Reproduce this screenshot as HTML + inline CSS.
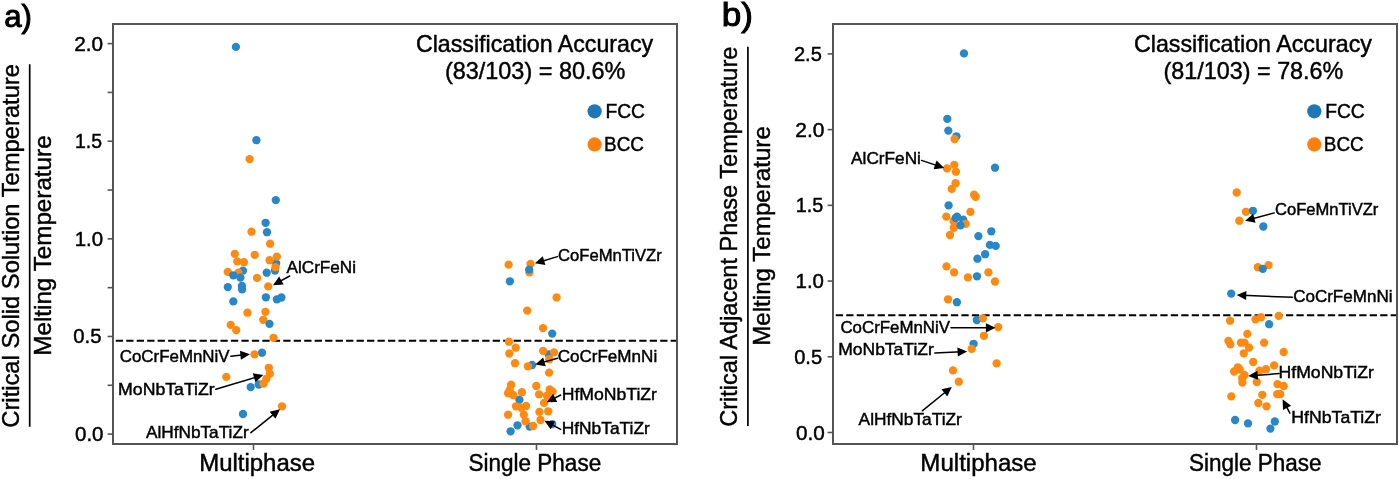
<!DOCTYPE html>
<html><head><meta charset="utf-8"><title>Classification Accuracy</title>
<style>html,body{margin:0;padding:0;background:#fff;}body{width:1399px;height:479px;overflow:hidden;}svg{display:block;will-change:transform;}
text{font-family:"Liberation Sans",sans-serif;stroke:#000;stroke-width:0.45px;}</style></head>
<body>
<svg width="1399" height="479" viewBox="0 0 1399 479" font-family="Liberation Sans, sans-serif">
<rect x="0" y="0" width="1399" height="479" fill="#fff"/>
<line x1="107.6" y1="434.1" x2="113" y2="434.1" stroke="#555555" stroke-width="1.6"/>
<line x1="107.6" y1="385.29" x2="113" y2="385.29" stroke="#555555" stroke-width="1.6"/>
<line x1="107.6" y1="336.48" x2="113" y2="336.48" stroke="#555555" stroke-width="1.6"/>
<line x1="107.6" y1="287.66" x2="113" y2="287.66" stroke="#555555" stroke-width="1.6"/>
<line x1="107.6" y1="238.85" x2="113" y2="238.85" stroke="#555555" stroke-width="1.6"/>
<line x1="107.6" y1="190.04" x2="113" y2="190.04" stroke="#555555" stroke-width="1.6"/>
<line x1="107.6" y1="141.23" x2="113" y2="141.23" stroke="#555555" stroke-width="1.6"/>
<line x1="107.6" y1="92.41" x2="113" y2="92.41" stroke="#555555" stroke-width="1.6"/>
<line x1="107.6" y1="43.6" x2="113" y2="43.6" stroke="#555555" stroke-width="1.6"/>
<text x="74.98" y="441.1" font-size="20.3" textLength="28.54" lengthAdjust="spacingAndGlyphs" fill="#000">0.0</text>
<text x="73.29" y="343.48" font-size="20.3" textLength="28.22" lengthAdjust="spacingAndGlyphs" fill="#000">0.5</text>
<text x="74.66" y="245.85" font-size="20.3" textLength="28.46" lengthAdjust="spacingAndGlyphs" fill="#000">1.0</text>
<text x="75.04" y="148.23" font-size="20.3" textLength="27.03" lengthAdjust="spacingAndGlyphs" fill="#000">1.5</text>
<text x="74.26" y="50.6" font-size="20.3" textLength="28.87" lengthAdjust="spacingAndGlyphs" fill="#000">2.0</text>
<line x1="115.75" y1="340.7" x2="677" y2="340.7" stroke="#000" stroke-width="2" stroke-dasharray="7.3 3.17"/>
<line x1="827.6" y1="432.5" x2="833" y2="432.5" stroke="#555555" stroke-width="1.6"/>
<line x1="827.6" y1="356.78" x2="833" y2="356.78" stroke="#555555" stroke-width="1.6"/>
<line x1="827.6" y1="281.06" x2="833" y2="281.06" stroke="#555555" stroke-width="1.6"/>
<line x1="827.6" y1="205.34" x2="833" y2="205.34" stroke="#555555" stroke-width="1.6"/>
<line x1="827.6" y1="129.62" x2="833" y2="129.62" stroke="#555555" stroke-width="1.6"/>
<line x1="827.6" y1="53.9" x2="833" y2="53.9" stroke="#555555" stroke-width="1.6"/>
<text x="796.07" y="439.5" font-size="20.3" textLength="28.86" lengthAdjust="spacingAndGlyphs" fill="#000">0.0</text>
<text x="794.2" y="363.78" font-size="20.3" textLength="27.91" lengthAdjust="spacingAndGlyphs" fill="#000">0.5</text>
<text x="795.56" y="288.06" font-size="20.3" textLength="28.46" lengthAdjust="spacingAndGlyphs" fill="#000">1.0</text>
<text x="795.81" y="212.34" font-size="20.3" textLength="27.58" lengthAdjust="spacingAndGlyphs" fill="#000">1.5</text>
<text x="795.25" y="136.62" font-size="20.3" textLength="29.19" lengthAdjust="spacingAndGlyphs" fill="#000">2.0</text>
<text x="793.9" y="60.9" font-size="20.3" textLength="27.91" lengthAdjust="spacingAndGlyphs" fill="#000">2.5</text>
<line x1="835.75" y1="315.2" x2="1397" y2="315.2" stroke="#000" stroke-width="2" stroke-dasharray="7.3 3.17"/>
<line x1="253.5" y1="444" x2="253.5" y2="450" stroke="#555555" stroke-width="1.6"/>
<line x1="536.5" y1="444" x2="536.5" y2="450" stroke="#555555" stroke-width="1.6"/>
<line x1="973.5" y1="444" x2="973.5" y2="450" stroke="#555555" stroke-width="1.6"/>
<line x1="1256.5" y1="444" x2="1256.5" y2="450" stroke="#555555" stroke-width="1.6"/>
<circle cx="235.9" cy="46.9" r="4.15" fill="#2787c8"/>
<circle cx="256.4" cy="140.2" r="4.15" fill="#2787c8"/>
<circle cx="275.8" cy="200.1" r="4.15" fill="#2787c8"/>
<circle cx="265.6" cy="222.8" r="4.15" fill="#2787c8"/>
<circle cx="267" cy="232.2" r="4.15" fill="#2787c8"/>
<circle cx="276.1" cy="263.3" r="4.15" fill="#2787c8"/>
<circle cx="275" cy="270.6" r="4.15" fill="#2787c8"/>
<circle cx="243" cy="270.6" r="4.15" fill="#2787c8"/>
<circle cx="266.7" cy="272.7" r="4.15" fill="#2787c8"/>
<circle cx="227.8" cy="287.1" r="4.15" fill="#2787c8"/>
<circle cx="241.9" cy="286" r="4.15" fill="#2787c8"/>
<circle cx="242.1" cy="289.4" r="4.15" fill="#2787c8"/>
<circle cx="265.9" cy="297.3" r="4.15" fill="#2787c8"/>
<circle cx="276.9" cy="299.3" r="4.15" fill="#2787c8"/>
<circle cx="281.4" cy="297.5" r="4.15" fill="#2787c8"/>
<circle cx="233.3" cy="301.4" r="4.15" fill="#2787c8"/>
<circle cx="262" cy="352.7" r="4.15" fill="#2787c8"/>
<circle cx="258.8" cy="384.5" r="4.15" fill="#2787c8"/>
<circle cx="250.7" cy="387.1" r="4.15" fill="#2787c8"/>
<circle cx="243" cy="414" r="4.15" fill="#2787c8"/>
<circle cx="249.6" cy="159.1" r="4.15" fill="#ff8a10"/>
<circle cx="251.5" cy="231.7" r="4.15" fill="#ff8a10"/>
<circle cx="270.1" cy="243.7" r="4.15" fill="#ff8a10"/>
<circle cx="234.8" cy="253.9" r="4.15" fill="#ff8a10"/>
<circle cx="254.7" cy="254.9" r="4.15" fill="#ff8a10"/>
<circle cx="276.8" cy="256.6" r="4.15" fill="#ff8a10"/>
<circle cx="269.6" cy="260.2" r="4.15" fill="#ff8a10"/>
<circle cx="237.3" cy="261.4" r="4.15" fill="#ff8a10"/>
<circle cx="243.9" cy="262.2" r="4.15" fill="#ff8a10"/>
<circle cx="275.4" cy="267.2" r="4.15" fill="#ff8a10"/>
<circle cx="227.8" cy="271.9" r="4.15" fill="#ff8a10"/>
<circle cx="238.5" cy="272.7" r="4.15" fill="#ff8a10"/>
<circle cx="257" cy="277.9" r="4.15" fill="#ff8a10"/>
<circle cx="268.2" cy="286.4" r="4.15" fill="#ff8a10"/>
<circle cx="247.4" cy="312.7" r="4.15" fill="#ff8a10"/>
<circle cx="265.4" cy="311.8" r="4.15" fill="#ff8a10"/>
<circle cx="263.2" cy="319.8" r="4.15" fill="#ff8a10"/>
<circle cx="230.7" cy="324.9" r="4.15" fill="#ff8a10"/>
<circle cx="236.2" cy="330.1" r="4.15" fill="#ff8a10"/>
<circle cx="273.5" cy="337.8" r="4.15" fill="#ff8a10"/>
<circle cx="254.5" cy="354.4" r="4.15" fill="#ff8a10"/>
<circle cx="268.8" cy="367.8" r="4.15" fill="#ff8a10"/>
<circle cx="269.8" cy="373.6" r="4.15" fill="#ff8a10"/>
<circle cx="266.4" cy="378.8" r="4.15" fill="#ff8a10"/>
<circle cx="263.5" cy="383.5" r="4.15" fill="#ff8a10"/>
<circle cx="226.3" cy="376.9" r="4.15" fill="#ff8a10"/>
<circle cx="282" cy="406.3" r="4.15" fill="#ff8a10"/>
<circle cx="233.3" cy="275.3" r="4.15" fill="#2787c8"/>
<circle cx="240.4" cy="277.6" r="4.15" fill="#2787c8"/>
<circle cx="269.5" cy="323.9" r="4.15" fill="#2787c8"/>
<circle cx="509.9" cy="281.3" r="4.15" fill="#2787c8"/>
<circle cx="552.2" cy="333.6" r="4.15" fill="#2787c8"/>
<circle cx="548.8" cy="354.5" r="4.15" fill="#2787c8"/>
<circle cx="532.1" cy="365" r="4.15" fill="#2787c8"/>
<circle cx="519.4" cy="399.7" r="4.15" fill="#2787c8"/>
<circle cx="517.5" cy="425.3" r="4.15" fill="#2787c8"/>
<circle cx="510.6" cy="431.3" r="4.15" fill="#2787c8"/>
<circle cx="529.7" cy="426.6" r="4.15" fill="#2787c8"/>
<circle cx="552.2" cy="424.1" r="4.15" fill="#2787c8"/>
<circle cx="508.6" cy="264.6" r="4.15" fill="#ff8a10"/>
<circle cx="530.5" cy="263.9" r="4.15" fill="#ff8a10"/>
<circle cx="529.4" cy="272.4" r="4.15" fill="#ff8a10"/>
<circle cx="556.6" cy="297.4" r="4.15" fill="#ff8a10"/>
<circle cx="527.2" cy="310.6" r="4.15" fill="#ff8a10"/>
<circle cx="543" cy="328.1" r="4.15" fill="#ff8a10"/>
<circle cx="508.9" cy="341.7" r="4.15" fill="#ff8a10"/>
<circle cx="515.7" cy="347.7" r="4.15" fill="#ff8a10"/>
<circle cx="509.3" cy="353.5" r="4.15" fill="#ff8a10"/>
<circle cx="515" cy="363.2" r="4.15" fill="#ff8a10"/>
<circle cx="543.2" cy="350.9" r="4.15" fill="#ff8a10"/>
<circle cx="554" cy="352.4" r="4.15" fill="#ff8a10"/>
<circle cx="549.3" cy="359.2" r="4.15" fill="#ff8a10"/>
<circle cx="527.9" cy="366.3" r="4.15" fill="#ff8a10"/>
<circle cx="549.1" cy="372.6" r="4.15" fill="#ff8a10"/>
<circle cx="511.1" cy="384.7" r="4.15" fill="#ff8a10"/>
<circle cx="509.7" cy="390" r="4.15" fill="#ff8a10"/>
<circle cx="508.1" cy="393.2" r="4.15" fill="#ff8a10"/>
<circle cx="513.1" cy="395" r="4.15" fill="#ff8a10"/>
<circle cx="521.9" cy="392.2" r="4.15" fill="#ff8a10"/>
<circle cx="536.3" cy="386" r="4.15" fill="#ff8a10"/>
<circle cx="539.1" cy="394.4" r="4.15" fill="#ff8a10"/>
<circle cx="549.7" cy="389.4" r="4.15" fill="#ff8a10"/>
<circle cx="552.5" cy="391.6" r="4.15" fill="#ff8a10"/>
<circle cx="546.9" cy="395.7" r="4.15" fill="#ff8a10"/>
<circle cx="544.1" cy="402.9" r="4.15" fill="#ff8a10"/>
<circle cx="516" cy="406.3" r="4.15" fill="#ff8a10"/>
<circle cx="521.3" cy="407.8" r="4.15" fill="#ff8a10"/>
<circle cx="526" cy="406" r="4.15" fill="#ff8a10"/>
<circle cx="523.8" cy="414.6" r="4.15" fill="#ff8a10"/>
<circle cx="525.5" cy="421.2" r="4.15" fill="#ff8a10"/>
<circle cx="508.1" cy="414.7" r="4.15" fill="#ff8a10"/>
<circle cx="533.1" cy="426" r="4.15" fill="#ff8a10"/>
<circle cx="539.4" cy="411.9" r="4.15" fill="#ff8a10"/>
<circle cx="548.2" cy="411.3" r="4.15" fill="#ff8a10"/>
<circle cx="540.5" cy="420" r="4.15" fill="#ff8a10"/>
<circle cx="529.2" cy="269.6" r="4.15" fill="#2787c8"/>
<circle cx="964" cy="53.4" r="4.15" fill="#2787c8"/>
<circle cx="947.3" cy="118.9" r="4.15" fill="#2787c8"/>
<circle cx="948.3" cy="130.6" r="4.15" fill="#2787c8"/>
<circle cx="956.4" cy="136.3" r="4.15" fill="#2787c8"/>
<circle cx="995" cy="167.7" r="4.15" fill="#2787c8"/>
<circle cx="948.6" cy="205.4" r="4.15" fill="#2787c8"/>
<circle cx="963.2" cy="219.7" r="4.15" fill="#2787c8"/>
<circle cx="991.3" cy="231.3" r="4.15" fill="#2787c8"/>
<circle cx="978.4" cy="236.1" r="4.15" fill="#2787c8"/>
<circle cx="989.9" cy="244.9" r="4.15" fill="#2787c8"/>
<circle cx="995.7" cy="245.9" r="4.15" fill="#2787c8"/>
<circle cx="985.1" cy="254.2" r="4.15" fill="#2787c8"/>
<circle cx="977.4" cy="258.7" r="4.15" fill="#2787c8"/>
<circle cx="977" cy="276.3" r="4.15" fill="#2787c8"/>
<circle cx="956.9" cy="302.2" r="4.15" fill="#2787c8"/>
<circle cx="976.8" cy="320" r="4.15" fill="#2787c8"/>
<circle cx="973.6" cy="343.8" r="4.15" fill="#2787c8"/>
<circle cx="954.6" cy="139" r="4.15" fill="#ff8a10"/>
<circle cx="947" cy="168.4" r="4.15" fill="#ff8a10"/>
<circle cx="954.3" cy="164.9" r="4.15" fill="#ff8a10"/>
<circle cx="955.9" cy="171.7" r="4.15" fill="#ff8a10"/>
<circle cx="955.6" cy="183.2" r="4.15" fill="#ff8a10"/>
<circle cx="951.7" cy="188.9" r="4.15" fill="#ff8a10"/>
<circle cx="974.1" cy="194.7" r="4.15" fill="#ff8a10"/>
<circle cx="975.7" cy="196.8" r="4.15" fill="#ff8a10"/>
<circle cx="970.4" cy="211.9" r="4.15" fill="#ff8a10"/>
<circle cx="946.3" cy="216.6" r="4.15" fill="#ff8a10"/>
<circle cx="953.6" cy="221.2" r="4.15" fill="#ff8a10"/>
<circle cx="965.7" cy="223.8" r="4.15" fill="#ff8a10"/>
<circle cx="953.8" cy="227.8" r="4.15" fill="#ff8a10"/>
<circle cx="950" cy="235" r="4.15" fill="#ff8a10"/>
<circle cx="946.5" cy="266.4" r="4.15" fill="#ff8a10"/>
<circle cx="954.1" cy="272.3" r="4.15" fill="#ff8a10"/>
<circle cx="967.9" cy="277.4" r="4.15" fill="#ff8a10"/>
<circle cx="988.4" cy="272.3" r="4.15" fill="#ff8a10"/>
<circle cx="995" cy="281.5" r="4.15" fill="#ff8a10"/>
<circle cx="948" cy="299.3" r="4.15" fill="#ff8a10"/>
<circle cx="982.8" cy="318.4" r="4.15" fill="#ff8a10"/>
<circle cx="998.2" cy="327.1" r="4.15" fill="#ff8a10"/>
<circle cx="983.9" cy="335.8" r="4.15" fill="#ff8a10"/>
<circle cx="971.7" cy="348.8" r="4.15" fill="#ff8a10"/>
<circle cx="996.6" cy="363.4" r="4.15" fill="#ff8a10"/>
<circle cx="953" cy="370.4" r="4.15" fill="#ff8a10"/>
<circle cx="958.8" cy="381.7" r="4.15" fill="#ff8a10"/>
<circle cx="955.7" cy="218" r="4.15" fill="#2787c8"/>
<circle cx="957" cy="216.6" r="4.15" fill="#2787c8"/>
<circle cx="960.5" cy="225.3" r="4.15" fill="#2787c8"/>
<circle cx="1263.3" cy="226.5" r="4.15" fill="#2787c8"/>
<circle cx="1231.2" cy="293.6" r="4.15" fill="#2787c8"/>
<circle cx="1269.1" cy="324.2" r="4.15" fill="#2787c8"/>
<circle cx="1235.1" cy="420" r="4.15" fill="#2787c8"/>
<circle cx="1248" cy="423.4" r="4.15" fill="#2787c8"/>
<circle cx="1274.8" cy="421.5" r="4.15" fill="#2787c8"/>
<circle cx="1270.4" cy="428.6" r="4.15" fill="#2787c8"/>
<circle cx="1236.7" cy="192.5" r="4.15" fill="#ff8a10"/>
<circle cx="1245.9" cy="211.8" r="4.15" fill="#ff8a10"/>
<circle cx="1239.3" cy="220.7" r="4.15" fill="#ff8a10"/>
<circle cx="1257.8" cy="267.2" r="4.15" fill="#ff8a10"/>
<circle cx="1268.5" cy="265.1" r="4.15" fill="#ff8a10"/>
<circle cx="1230.1" cy="320.7" r="4.15" fill="#ff8a10"/>
<circle cx="1255.5" cy="319.3" r="4.15" fill="#ff8a10"/>
<circle cx="1261" cy="317.2" r="4.15" fill="#ff8a10"/>
<circle cx="1278.7" cy="315.9" r="4.15" fill="#ff8a10"/>
<circle cx="1247.3" cy="333.9" r="4.15" fill="#ff8a10"/>
<circle cx="1228.4" cy="340.9" r="4.15" fill="#ff8a10"/>
<circle cx="1230.3" cy="344.3" r="4.15" fill="#ff8a10"/>
<circle cx="1240.9" cy="342.7" r="4.15" fill="#ff8a10"/>
<circle cx="1244.5" cy="342.6" r="4.15" fill="#ff8a10"/>
<circle cx="1249.1" cy="347.6" r="4.15" fill="#ff8a10"/>
<circle cx="1264.1" cy="342.7" r="4.15" fill="#ff8a10"/>
<circle cx="1243.8" cy="353.3" r="4.15" fill="#ff8a10"/>
<circle cx="1283.7" cy="352" r="4.15" fill="#ff8a10"/>
<circle cx="1253.2" cy="362" r="4.15" fill="#ff8a10"/>
<circle cx="1274.1" cy="365.4" r="4.15" fill="#ff8a10"/>
<circle cx="1237.8" cy="367.3" r="4.15" fill="#ff8a10"/>
<circle cx="1239.7" cy="369.4" r="4.15" fill="#ff8a10"/>
<circle cx="1234.1" cy="371.5" r="4.15" fill="#ff8a10"/>
<circle cx="1244.4" cy="375" r="4.15" fill="#ff8a10"/>
<circle cx="1242.2" cy="378.2" r="4.15" fill="#ff8a10"/>
<circle cx="1242.4" cy="382.5" r="4.15" fill="#ff8a10"/>
<circle cx="1259.5" cy="370.6" r="4.15" fill="#ff8a10"/>
<circle cx="1265.9" cy="369.2" r="4.15" fill="#ff8a10"/>
<circle cx="1256.8" cy="382" r="4.15" fill="#ff8a10"/>
<circle cx="1277.5" cy="384.1" r="4.15" fill="#ff8a10"/>
<circle cx="1283.7" cy="386" r="4.15" fill="#ff8a10"/>
<circle cx="1231.3" cy="396.4" r="4.15" fill="#ff8a10"/>
<circle cx="1262.3" cy="394.8" r="4.15" fill="#ff8a10"/>
<circle cx="1277.2" cy="394.1" r="4.15" fill="#ff8a10"/>
<circle cx="1280.3" cy="394.1" r="4.15" fill="#ff8a10"/>
<circle cx="1258.3" cy="403" r="4.15" fill="#ff8a10"/>
<circle cx="1266.5" cy="406.3" r="4.15" fill="#ff8a10"/>
<circle cx="1252.9" cy="210.8" r="4.15" fill="#2787c8"/>
<circle cx="1262.8" cy="268.8" r="4.15" fill="#2787c8"/>
<rect x="113" y="24" width="564" height="420" fill="none" stroke="#555555" stroke-width="2"/>
<rect x="833" y="24" width="564" height="420" fill="none" stroke="#555555" stroke-width="2"/>
<text x="286.6" y="272.7" font-size="17" textLength="69.42" lengthAdjust="spacingAndGlyphs" fill="#000">AlCrFeNi</text>
<text x="119.76" y="362.1" font-size="17" textLength="109.83" lengthAdjust="spacingAndGlyphs" fill="#000">CoCrFeMnNiV</text>
<text x="118.08" y="394.7" font-size="17" textLength="96.65" lengthAdjust="spacingAndGlyphs" fill="#000">MoNbTaTiZr</text>
<text x="146" y="437.8" font-size="17" textLength="102.63" lengthAdjust="spacingAndGlyphs" fill="#000">AlHfNbTaTiZr</text>
<text x="557.97" y="260.5" font-size="17" textLength="103.81" lengthAdjust="spacingAndGlyphs" fill="#000">CoFeMnTiVZr</text>
<text x="557.65" y="362.2" font-size="17" textLength="99.54" lengthAdjust="spacingAndGlyphs" fill="#000">CoCrFeMnNi</text>
<text x="561.69" y="399.7" font-size="17" textLength="95.31" lengthAdjust="spacingAndGlyphs" fill="#000">HfMoNbTiZr</text>
<text x="561.71" y="434.3" font-size="17" textLength="88.13" lengthAdjust="spacingAndGlyphs" fill="#000">HfNbTaTiZr</text>
<line x1="289.7" y1="276" x2="278.05" y2="282.42" stroke="#000" stroke-width="1.5" stroke-linecap="round"/>
<polygon points="273,285.2 279.19,276.54 283.63,284.6" fill="#000"/>
<line x1="230.8" y1="356.2" x2="244.27" y2="354.87" stroke="#000" stroke-width="1.5" stroke-linecap="round"/>
<polygon points="250,354.3 240.9,359.82 239.99,350.67" fill="#000"/>
<line x1="215.8" y1="389.3" x2="257.78" y2="376.66" stroke="#000" stroke-width="1.5" stroke-linecap="round"/>
<polygon points="263.3,375 255.43,382.17 252.78,373.36" fill="#000"/>
<line x1="250.9" y1="432.7" x2="275.52" y2="412.82" stroke="#000" stroke-width="1.5" stroke-linecap="round"/>
<polygon points="280,409.2 275.42,418.81 269.64,411.65" fill="#000"/>
<line x1="557.4" y1="256.6" x2="540.42" y2="261.66" stroke="#000" stroke-width="1.5" stroke-linecap="round"/>
<polygon points="534.9,263.3 542.79,256.15 545.41,264.97" fill="#000"/>
<line x1="557.6" y1="358.2" x2="540.75" y2="362.86" stroke="#000" stroke-width="1.5" stroke-linecap="round"/>
<polygon points="535.2,364.4 543.23,357.41 545.68,366.27" fill="#000"/>
<line x1="560.7" y1="395" x2="551.73" y2="399.58" stroke="#000" stroke-width="1.5" stroke-linecap="round"/>
<polygon points="546.6,402.2 553.06,393.74 557.24,401.93" fill="#000"/>
<line x1="560.7" y1="429.4" x2="549.48" y2="423.41" stroke="#000" stroke-width="1.5" stroke-linecap="round"/>
<polygon points="544.4,420.7 555.04,421.16 550.7,429.28" fill="#000"/>
<text x="851.1" y="163.6" font-size="17" textLength="69.83" lengthAdjust="spacingAndGlyphs" fill="#000">AlCrFeNi</text>
<text x="840.46" y="332.6" font-size="17" textLength="109.52" lengthAdjust="spacingAndGlyphs" fill="#000">CoCrFeMnNiV</text>
<text x="838.2" y="355.4" font-size="17" textLength="95.63" lengthAdjust="spacingAndGlyphs" fill="#000">MoNbTaTiZr</text>
<text x="858.6" y="425.3" font-size="17" textLength="103.23" lengthAdjust="spacingAndGlyphs" fill="#000">AlHfNbTaTiZr</text>
<text x="1274.97" y="215.4" font-size="17" textLength="103.41" lengthAdjust="spacingAndGlyphs" fill="#000">CoFeMnTiVZr</text>
<text x="1293.15" y="301.7" font-size="17" textLength="99.34" lengthAdjust="spacingAndGlyphs" fill="#000">CoCrFeMnNi</text>
<text x="1278.49" y="377.7" font-size="17" textLength="95.41" lengthAdjust="spacingAndGlyphs" fill="#000">HfMoNbTiZr</text>
<text x="1291.39" y="423.3" font-size="17" textLength="89.56" lengthAdjust="spacingAndGlyphs" fill="#000">HfNbTaTiZr</text>
<line x1="921.5" y1="160.4" x2="938.73" y2="166.09" stroke="#000" stroke-width="1.5" stroke-linecap="round"/>
<polygon points="944.2,167.9 933.64,169.26 936.53,160.52" fill="#000"/>
<line x1="951" y1="327.8" x2="989.74" y2="327.8" stroke="#000" stroke-width="1.5" stroke-linecap="round"/>
<polygon points="995.5,327.8 985.9,332.4 985.9,323.2" fill="#000"/>
<line x1="934.9" y1="353.1" x2="961.45" y2="351.78" stroke="#000" stroke-width="1.5" stroke-linecap="round"/>
<polygon points="967.2,351.5 957.84,356.57 957.38,347.38" fill="#000"/>
<line x1="922.3" y1="410.8" x2="947.32" y2="390.53" stroke="#000" stroke-width="1.5" stroke-linecap="round"/>
<polygon points="951.8,386.9 947.24,396.52 941.45,389.37" fill="#000"/>
<line x1="1274.3" y1="212.9" x2="1250.66" y2="219.21" stroke="#000" stroke-width="1.5" stroke-linecap="round"/>
<polygon points="1245.1,220.7 1253.19,213.78 1255.56,222.67" fill="#000"/>
<line x1="1292.5" y1="297.3" x2="1242.46" y2="295.33" stroke="#000" stroke-width="1.5" stroke-linecap="round"/>
<polygon points="1236.7,295.1 1246.47,290.88 1246.11,300.07" fill="#000"/>
<line x1="1279" y1="373.6" x2="1253.94" y2="375.55" stroke="#000" stroke-width="1.5" stroke-linecap="round"/>
<polygon points="1248.2,376 1257.41,370.67 1258.13,379.84" fill="#000"/>
<line x1="1289.9" y1="413.2" x2="1285.28" y2="404.4" stroke="#000" stroke-width="1.5" stroke-linecap="round"/>
<polygon points="1282.6,399.3 1291.14,405.66 1282.99,409.94" fill="#000"/>
<text x="415.94" y="52.2" font-size="24" textLength="237.26" lengthAdjust="spacingAndGlyphs" fill="#000">Classification Accuracy</text>
<text x="444.89" y="79" font-size="24" textLength="180.53" lengthAdjust="spacingAndGlyphs" fill="#000">(83/103) = 80.6%</text>
<text x="1133.94" y="52.2" font-size="24" textLength="237.97" lengthAdjust="spacingAndGlyphs" fill="#000">Classification Accuracy</text>
<text x="1163.6" y="79" font-size="24" textLength="179.72" lengthAdjust="spacingAndGlyphs" fill="#000">(81/103) = 78.6%</text>
<circle cx="594.6" cy="111.3" r="7.1" fill="#1f77b4"/>
<circle cx="594.6" cy="144.4" r="7.1" fill="#ff7f0e"/>
<text x="605.46" y="118.4" font-size="20.3" textLength="39.51" lengthAdjust="spacingAndGlyphs" fill="#000">FCC</text>
<text x="604.09" y="151.4" font-size="20.3" textLength="39.89" lengthAdjust="spacingAndGlyphs" fill="#000">BCC</text>
<circle cx="1314.3" cy="111.3" r="7.1" fill="#1f77b4"/>
<circle cx="1314.3" cy="144.4" r="7.1" fill="#ff7f0e"/>
<text x="1325.16" y="118.4" font-size="20.3" textLength="39.51" lengthAdjust="spacingAndGlyphs" fill="#000">FCC</text>
<text x="1323.79" y="151.4" font-size="20.3" textLength="39.89" lengthAdjust="spacingAndGlyphs" fill="#000">BCC</text>
<text x="199.29" y="471.2" font-size="23.3" textLength="115.71" lengthAdjust="spacingAndGlyphs" fill="#000">Multiphase</text>
<text x="468.57" y="470.7" font-size="23.3" textLength="132.59" lengthAdjust="spacingAndGlyphs" fill="#000">Single Phase</text>
<text x="920.38" y="470.7" font-size="23.3" textLength="116.32" lengthAdjust="spacingAndGlyphs" fill="#000">Multiphase</text>
<text x="1188.88" y="470.7" font-size="23.3" textLength="132.59" lengthAdjust="spacingAndGlyphs" fill="#000">Single Phase</text>
<text transform="translate(18.6,426.5) rotate(-90)" x="-1.19" y="0" font-size="24.5" textLength="363.67" lengthAdjust="spacingAndGlyphs" fill="#000">Critical Solid Solution Temperature</text>
<text transform="translate(51.3,353.8) rotate(-90)" x="-1.94" y="0" font-size="24.5" textLength="220.36" lengthAdjust="spacingAndGlyphs" fill="#000">Melting Temperature</text>
<line x1="29.7" y1="64.3" x2="29.7" y2="426.7" stroke="#000" stroke-width="1.7"/>
<text transform="translate(736.7,425.6) rotate(-90)" x="-1.18" y="0" font-size="24.5" textLength="380.15" lengthAdjust="spacingAndGlyphs" fill="#000">Critical Adjacent Phase Temperature</text>
<text transform="translate(770,343.9) rotate(-90)" x="-1.93" y="0" font-size="24.5" textLength="219.65" lengthAdjust="spacingAndGlyphs" fill="#000">Melting Temperature</text>
<line x1="747.9" y1="46.7" x2="747.9" y2="425.9" stroke="#000" stroke-width="1.7"/>
<text x="4.15" y="27.2" font-size="31.5" style="stroke-width:1.0px" textLength="27.8" lengthAdjust="spacingAndGlyphs" fill="#000">a)</text>
<text x="721.69" y="25.9" font-size="32.5" style="stroke-width:1.0px" textLength="31.29" lengthAdjust="spacingAndGlyphs" fill="#000">b)</text>
</svg>
</body></html>
